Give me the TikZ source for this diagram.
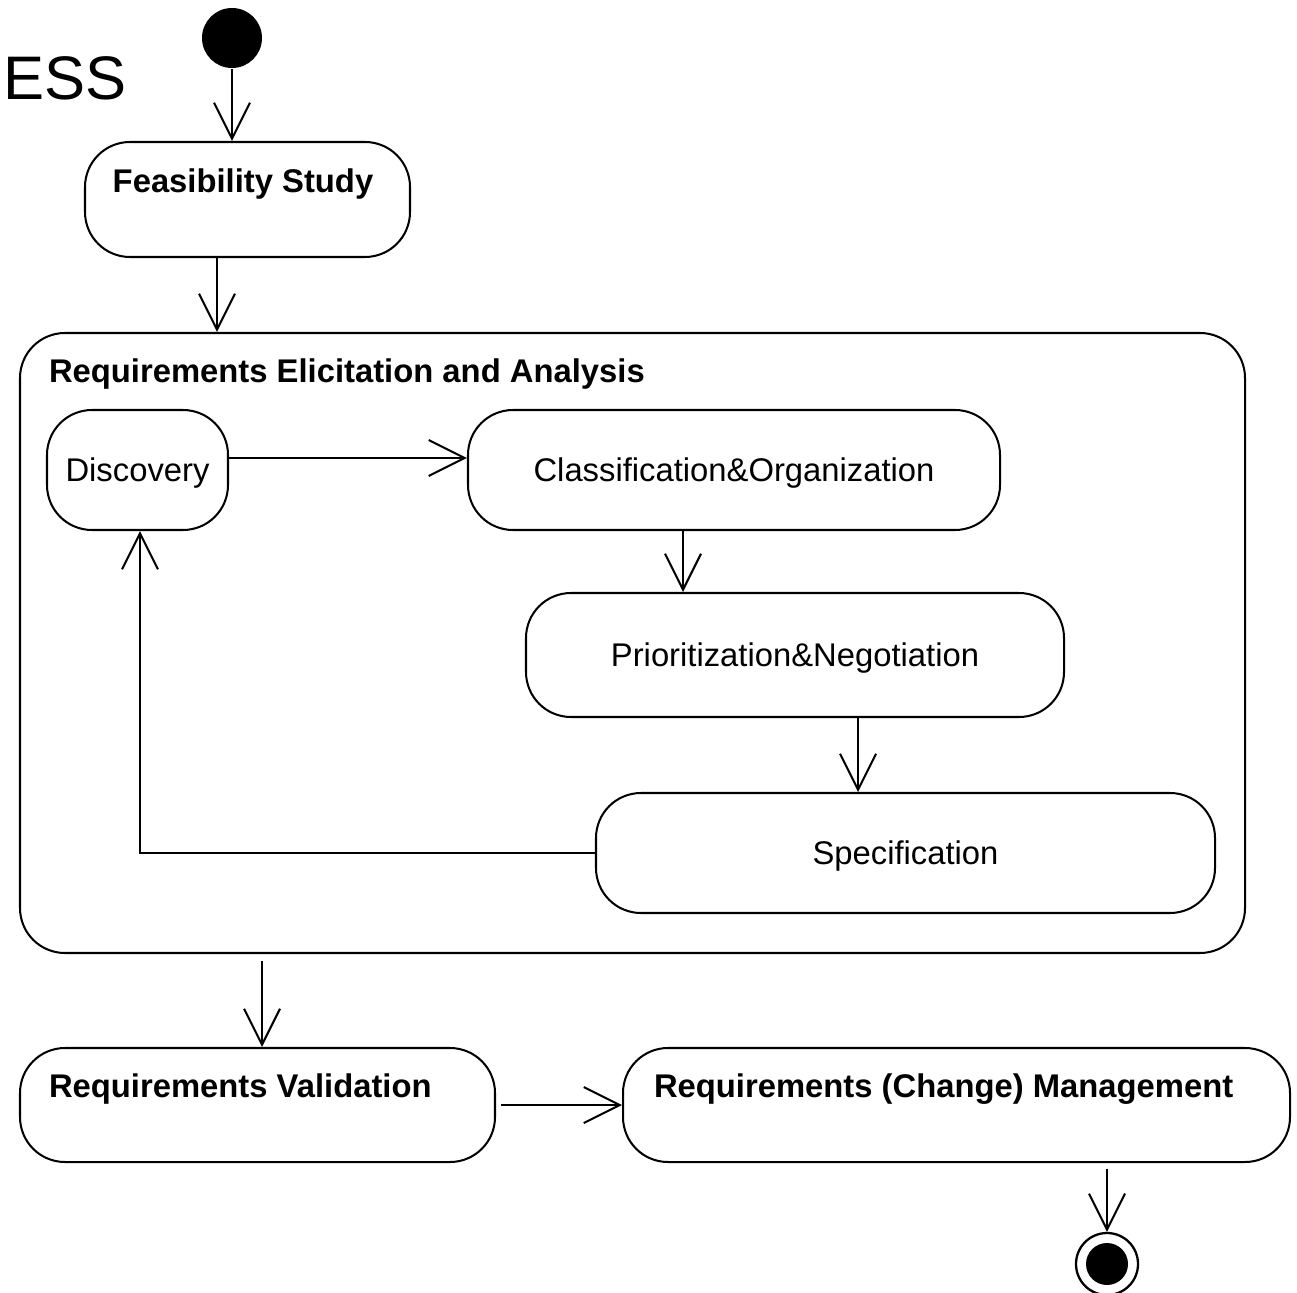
\documentclass[tikz,border=0pt]{standalone}
\usepackage{fontspec}
\setmainfont{Liberation Sans}
\usetikzlibrary{arrows.meta}
\newcommand{\pxu}{0.02cm}
\begin{document}
\begin{tikzpicture}[x=0.02cm,y=-0.02cm,
  line width=1.15pt,
  lbl/.style={font=\fontsize{18.66pt}{22pt}\selectfont, inner sep=0pt, text depth=0pt},
  blbl/.style={font=\fontsize{18.66pt}{22pt}\selectfont\bfseries, inner sep=0pt},
  act/.style={draw, fill=white, rounded corners=0.9cm, inner sep=0pt},
  arr/.style={-{Straight Barb[length=0.72cm,width=0.72cm,line width=1.15pt]}},
  startnode/.style={circle, fill=black, minimum size=60*\pxu, inner sep=0pt},
]
\useasboundingbox (0,0) rectangle (1297,1293);

% partial heading at the left edge
\node[font=\fontsize{35pt}{40pt}\selectfont, anchor=base west, inner sep=0pt] (head) at (2,100) {ESS};

% initial and final nodes
\node[startnode] (init) at (232,38) {};
\node[circle, draw, line width=1.3pt, minimum size=62*\pxu, inner sep=0pt] (final) at (1107,1264) {};
\node[circle, fill=black, minimum size=42*\pxu, inner sep=0pt] (finalin) at (final.center) {};

% feasibility study
\node[act, minimum width=325*\pxu, minimum height=115*\pxu] (feas) at (247.5,199.5) {};
\node[blbl] (feast) at (243,184) {Feasibility Study};

% elicitation and analysis container
\node[act, minimum width=1225*\pxu, minimum height=620*\pxu] (cont) at (632.5,643) {};
\node[blbl, anchor=west] (contt) at (48,374) {Requirements Elicitation and Analysis};

\node[act, lbl, minimum width=181*\pxu, minimum height=120*\pxu] (disc) at (137.5,470) {Discovery};
\node[act, lbl, minimum width=532*\pxu, minimum height=120*\pxu] (class) at (734,470) {Classification\&Organization};
\node[act, lbl, minimum width=538*\pxu, minimum height=124*\pxu] (prio) at (795,655) {Prioritization\&Negotiation};
\node[act, lbl, minimum width=619*\pxu, minimum height=120*\pxu] (spec) at (905.5,853) {Specification};

% validation and management
\node[act, minimum width=475*\pxu, minimum height=114*\pxu] (valid) at (257.5,1105) {};
\node[blbl, anchor=west] (validt) at (48,1089) {Requirements Validation};
\node[act, minimum width=667*\pxu, minimum height=114*\pxu] (mgmt) at (956.5,1105) {};
\node[blbl, anchor=west] (mgmtt) at (653,1089) {Requirements (Change) Management};

% guide coordinates for connector positions
\coordinate (xa) at (217,0);
\coordinate (xb) at (683,0);
\coordinate (xc) at (858,0);
\coordinate (xd) at (262,0);
\coordinate (xe) at (140,0);
\coordinate (ya) at (0,458);

% connectors
\draw[arr] (init.south) -- (init.south |- feas.north);
\draw[arr] (feas.south -| xa) -- (cont.north -| xa);
\draw[arr] (disc.east |- ya) -- (class.west |- ya);
\draw[arr] (class.south -| xb) -- (prio.north -| xb);
\draw[arr] (prio.south -| xc) -- (spec.north -| xc);
\draw[arr] (spec.west) -- (spec.west -| xe) -- (disc.south -| xe);
\draw[arr, shorten <=7*\pxu] (cont.south -| xd) -- (valid.north -| xd);
\draw[arr, shorten <=5*\pxu] (valid.east) -- (mgmt.west);
\draw[arr, shorten <=6*\pxu] (mgmt.south -| final) -- (final.north);
\end{tikzpicture}
\end{document}
